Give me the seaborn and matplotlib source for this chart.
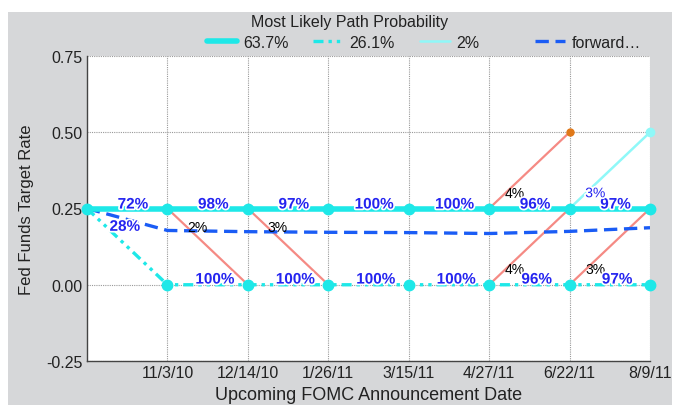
import numpy as np
import matplotlib
matplotlib.use("Agg")
import matplotlib.pyplot as plt
import matplotlib.patheffects as pe
from matplotlib.patches import Rectangle
import seaborn as sns

# --- data ---
meetings = ["", "11/3/10", "12/14/10", "1/26/11", "3/15/11", "4/27/11", "6/22/11", "8/9/11"]
path_main = [0.25, 0.25, 0.25, 0.25, 0.25, 0.25, 0.25, 0.25]     # 63.7%
path_cut = [0.25, 0.0, 0.0, 0.0, 0.0, 0.0, 0.0, 0.0]             # 26.1%
path_hike = [0.25, 0.25, 0.25, 0.25, 0.25, 0.25, 0.25, 0.50]     # 2%
forward = [0.25, 0.178, 0.174, 0.172, 0.171, 0.168, 0.175, 0.187]
legend_labels = ["63.7%", "26.1%", "2%", "forward…"]

main_probs = ["72%", "98%", "97%", "100%", "100%", "96%", "97%"]
cut_probs = ["28%", "100%", "100%", "100%", "100%", "96%", "97%"]
hike_prob = "3%"

branch_x0 = [1, 2, 5, 5, 6]
branch_y0 = [0.25, 0.25, 0.25, 0.0, 0.0]
branch_y1 = [0.0, 0.0, 0.50, 0.25, 0.25]
branch_probs = ["2%", "3%", "4%", "4%", "3%"]

CYAN = "#1ee8e8"
LIGHT_CYAN = "#8ff8f8"
BLUE_DASH = "#1a5cf5"
LABEL_BLUE = "#2424f0"
SALMON = "#f58a84"
BG = "#d6d7d9"
TXT = "#222222"

sns.set_style("white")
plt.rcParams["font.family"] = ["Liberation Sans", "DejaVu Sans"]

fig = plt.figure(figsize=(6.75, 4.06), dpi=100)
fig.patches.append(Rectangle((8 / 675, 0), 664 / 675, 393 / 406, transform=fig.transFigure,
                             facecolor=BG, edgecolor="none", zorder=-10))
ax = fig.add_axes([87 / 675, 44 / 406, 563 / 675, 305 / 406])
ax.set_facecolor("white")

x = np.arange(len(meetings))

# low-probability branches
for x0, y0, y1 in zip(branch_x0, branch_y0, branch_y1):
    sns.lineplot(x=[x0, x0 + 1], y=[y0, y1], ax=ax, color=SALMON, linewidth=1.6, zorder=2)
ax.plot([6], [0.5], "o", color="#e07818", markersize=5, zorder=3)

sns.lineplot(x=x, y=path_hike, ax=ax, color=LIGHT_CYAN, linewidth=1.8, zorder=3,
             label=legend_labels[2])
ax.plot([7], [path_hike[-1]], "o", color=LIGHT_CYAN, markersize=6, zorder=3, clip_on=False)
sns.lineplot(x=x, y=path_cut, ax=ax, color=CYAN, linewidth=2.4, zorder=4,
             linestyle=(0, (3, 1.5, 1, 1.5, 1, 1.5)), label=legend_labels[1])
ax.plot(x[1:], path_cut[1:], "o", color=CYAN, markersize=7.5, zorder=4, clip_on=False)
sns.lineplot(x=x, y=forward, ax=ax, color=BLUE_DASH, linewidth=2.4, zorder=5,
             linestyle=(0, (4, 2)), label=legend_labels[3])
sns.lineplot(x=x, y=path_main, ax=ax, color=CYAN, linewidth=4, zorder=6,
             label=legend_labels[0])
ax.plot(x, path_main, "o", color=CYAN, markersize=7.5, zorder=6, clip_on=False)

halo = [pe.withStroke(linewidth=2.5, foreground="white")]
for i, p in enumerate(main_probs):
    ax.text(i + 0.57, path_main[i] + 0.013, p, color=LABEL_BLUE, fontsize=11,
            fontweight="bold", ha="center", va="center", zorder=8, path_effects=halo)
for i, p in enumerate(cut_probs):
    yy = 0.19 if i == 0 else path_cut[i + 1] + 0.017
    xx = 0.47 if i == 0 else i + 0.59
    ax.text(xx, yy, p, color=LABEL_BLUE, fontsize=11, fontweight="bold",
            ha="center", va="center", zorder=8, path_effects=halo)
ax.text(6.32, 0.30, hike_prob, color=LABEL_BLUE, fontsize=10, ha="center",
        va="center", zorder=8, path_effects=halo)
for x0, y0, y1, p in zip(branch_x0, branch_y0, branch_y1, branch_probs):
    if y1 < y0:
        ax.text(x0 + 0.37, 0.19, p, color="black", fontsize=10, ha="center", va="center", zorder=7)
    else:
        ax.text(x0 + 0.32, y0 + 0.05, p, color="black", fontsize=10, ha="center", va="center", zorder=7)

ax.set_xlim(0, 7)
ax.set_ylim(-0.25, 0.75)
ax.set_xticks(x[1:])
ax.set_xticklabels(meetings[1:], fontsize=11.5, color=TXT)
ax.set_yticks([-0.25, 0, 0.25, 0.5, 0.75])
ax.set_yticklabels(["-0.25", "0.00", "0.25", "0.50", "0.75"], fontsize=11.5, color=TXT)
ax.tick_params(length=0, pad=3)
ax.grid(True, color="#999999", linestyle=(0, (1, 1)), linewidth=0.8)
for s in ["top", "right"]:
    ax.spines[s].set_visible(False)
for s in ["left", "bottom"]:
    ax.spines[s].set_color("#444444")
    ax.spines[s].set_linewidth(1)
ax.set_ylabel("Fed Funds Target Rate", fontsize=12, color=TXT, labelpad=9)
ax.set_xlabel("Upcoming FOMC Announcement Date", fontsize=13, color=TXT, labelpad=4)

handles, labels = ax.get_legend_handles_labels()
ax.get_legend().remove()
leg_x = [207, 313, 420, 535]
for lx, lab in zip(leg_x, legend_labels):
    h = handles[labels.index(lab)]
    leg = fig.legend([h], [lab], loc="center left", bbox_to_anchor=(lx / 675, 1 - 43 / 406),
                     frameon=False, fontsize=11.5, handlelength=1.9, handletextpad=0.4,
                     borderpad=0, borderaxespad=0)
    for t in leg.get_texts():
        t.set_color(TXT)
fig.text(350 / 675, 1 - 23 / 406, "Most Likely Path Probability", ha="center", va="center",
         fontsize=11.5, color=TXT)

fig.savefig("out.png", dpi=100)
